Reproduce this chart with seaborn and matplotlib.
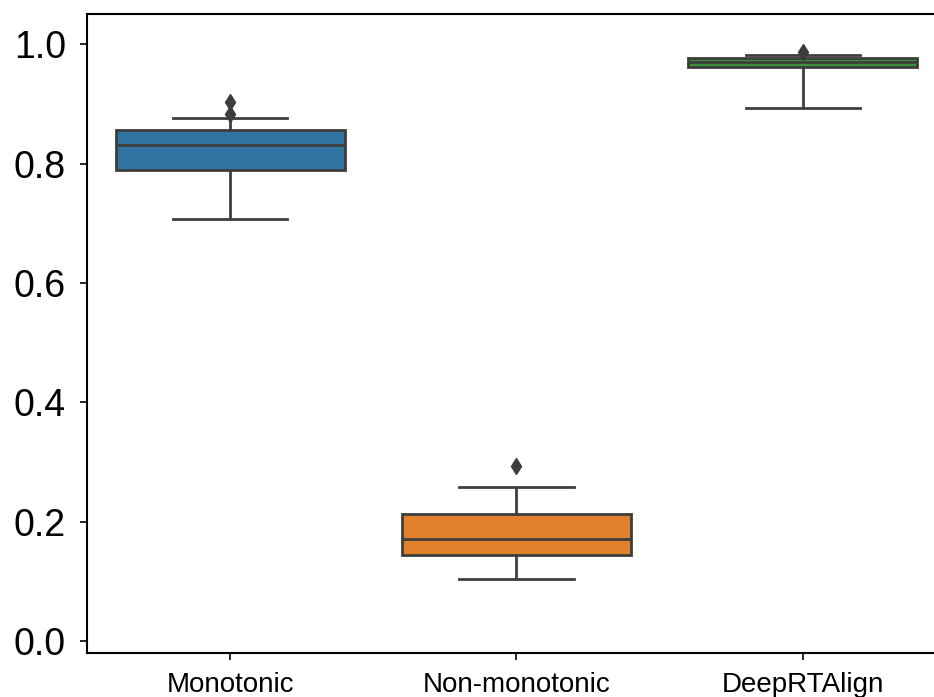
import numpy as np
import pandas as pd
import matplotlib
matplotlib.use("Agg")
import matplotlib.pyplot as plt
import seaborn as sns

# Per-method scores (20 runs each)
categories = ["Monotonic", "Non-monotonic", "DeepRTAlign"]

monotonic = [0.708, 0.708, 0.708, 0.745, 0.790, 0.790, 0.801, 0.812, 0.823, 0.832,
             0.832, 0.838, 0.845, 0.851, 0.856, 0.856, 0.866, 0.876, 0.884, 0.903]
non_monotonic = [0.104, 0.104, 0.104, 0.125, 0.144, 0.144, 0.152, 0.159, 0.165, 0.171,
                 0.171, 0.180, 0.192, 0.203, 0.213, 0.213, 0.232, 0.258, 0.258, 0.294]
deeprtalign = [0.894, 0.894, 0.894, 0.935, 0.962, 0.962, 0.964, 0.966, 0.968, 0.970,
               0.970, 0.972, 0.974, 0.976, 0.978, 0.978, 0.980, 0.982, 0.982, 0.987]

y_ticks = [0.0, 0.2, 0.4, 0.6, 0.8, 1.0]

df = pd.DataFrame({
    "method": [categories[0]] * len(monotonic)
              + [categories[1]] * len(non_monotonic)
              + [categories[2]] * len(deeprtalign),
    "score": monotonic + non_monotonic + deeprtalign,
})

plt.rcParams["font.family"] = ["Liberation Sans", "DejaVu Sans"]

fig = plt.figure(figsize=(9.34, 6.97), dpi=100)
ax = fig.add_axes([0.0931, 0.0631, 0.9197, 0.9168])

palette = ["#3274a1", "#e1812c", "#3a923a"]
line_c = "#3d3d3d"
sns.boxplot(
    data=df, x="method", y="score", order=categories, hue="method",
    palette=palette, legend=False, ax=ax, width=0.8, whis=(10, 90),
    linewidth=2.0, linecolor=line_c, saturation=1,
    flierprops=dict(marker="d", markerfacecolor=line_c, markeredgecolor=line_c,
                    markersize=8),
)

ax.set_xlim(-0.5, 2.5)
ax.set_ylim(-0.02, 1.051)
ax.set_yticks(y_ticks)
ax.set_yticklabels([f"{v:.1f}" for v in y_ticks])
ax.set_xlabel("")
ax.set_ylabel("")
ax.tick_params(axis="y", labelsize=27, length=5, width=1.2, pad=10)
ax.tick_params(axis="x", labelsize=20, length=5, width=1.2, pad=8.5)
for s in ax.spines.values():
    s.set_linewidth(1.5)
    s.set_color("black")

fig.savefig("out.png", dpi=100, facecolor="white")
